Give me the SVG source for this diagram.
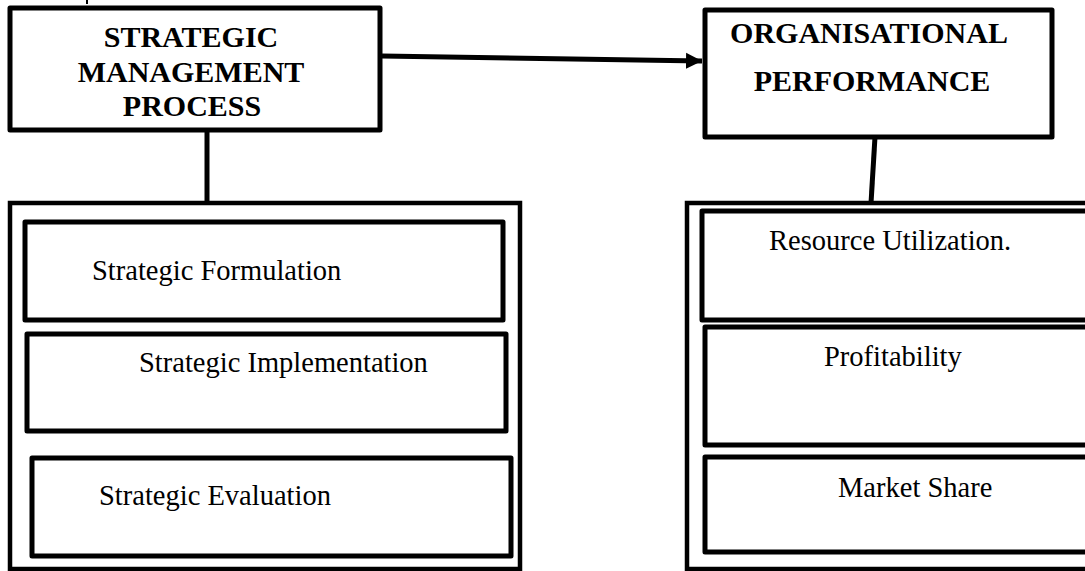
<svg xmlns="http://www.w3.org/2000/svg" width="1085" height="571" viewBox="0 0 1085 571">
<defs>
<style>
.box{fill:none;stroke:#000;stroke-width:5;stroke-linejoin:round}
.outer{fill:none;stroke:#000;stroke-width:4.5}
.line{fill:none;stroke:#000;stroke-width:5}
.t{font-family:"Liberation Serif","Times New Roman",serif;font-size:28.5px;fill:#000}
.h{font-family:"Liberation Serif","Times New Roman",serif;font-size:30px;font-weight:bold;fill:#000;text-anchor:middle}
</style>
<marker id="arr" markerWidth="4" markerHeight="4" refX="3.2" refY="2" orient="auto" markerUnits="strokeWidth">
<path d="M0,0.4 L3.2,2 L0,3.6 Z" fill="#000"/>
</marker>
</defs>
<rect width="1085" height="571" fill="#fff"/>
<path d="M87,0 V4" stroke="#000" stroke-width="2"/>
<g id="connectors">
<path class="line" d="M382,56 L702,61" marker-end="url(#arr)"/>
<path class="line" d="M207,130 V203"/>
<path class="line" d="M875,137 L871,203"/>
</g>
<g id="strategic-management-process">
<rect class="box" x="10" y="8" width="370" height="122"/>
<text class="h" x="191" y="47">STRATEGIC</text>
<text class="h" x="191" y="82">MANAGEMENT</text>
<text class="h" x="192" y="116">PROCESS</text>
</g>
<g id="organisational-performance">
<rect class="box" x="705" y="10" width="347" height="127"/>
<text class="h" x="869" y="43">ORGANISATIONAL</text>
<text class="h" x="872" y="91">PERFORMANCE</text>
</g>
<g id="smp-components">
<rect class="outer" x="10" y="203" width="510" height="366"/>
<g id="strategic-formulation">
<rect class="box" x="25" y="222" width="478" height="98"/>
<text class="t" x="92" y="280">Strategic Formulation</text>
</g>
<g id="strategic-implementation">
<rect class="box" x="27" y="334" width="479" height="97"/>
<text class="t" x="139" y="372">Strategic Implementation</text>
</g>
<g id="strategic-evaluation">
<rect class="box" x="32" y="458" width="479" height="98"/>
<text class="t" x="99" y="505">Strategic Evaluation</text>
</g>
</g>
<g id="op-components">
<rect class="outer" x="687" y="203" width="420" height="366"/>
<g id="resource-utilization">
<rect class="box" x="702" y="211" width="400" height="109"/>
<text class="t" x="769" y="250">Resource Utilization.</text>
</g>
<g id="profitability">
<rect class="box" x="705" y="327" width="400" height="118"/>
<text class="t" x="824" y="366">Profitability</text>
</g>
<g id="market-share">
<rect class="box" x="705" y="457" width="400" height="95"/>
<text class="t" x="838" y="497">Market Share</text>
</g>
</g>
</svg>
